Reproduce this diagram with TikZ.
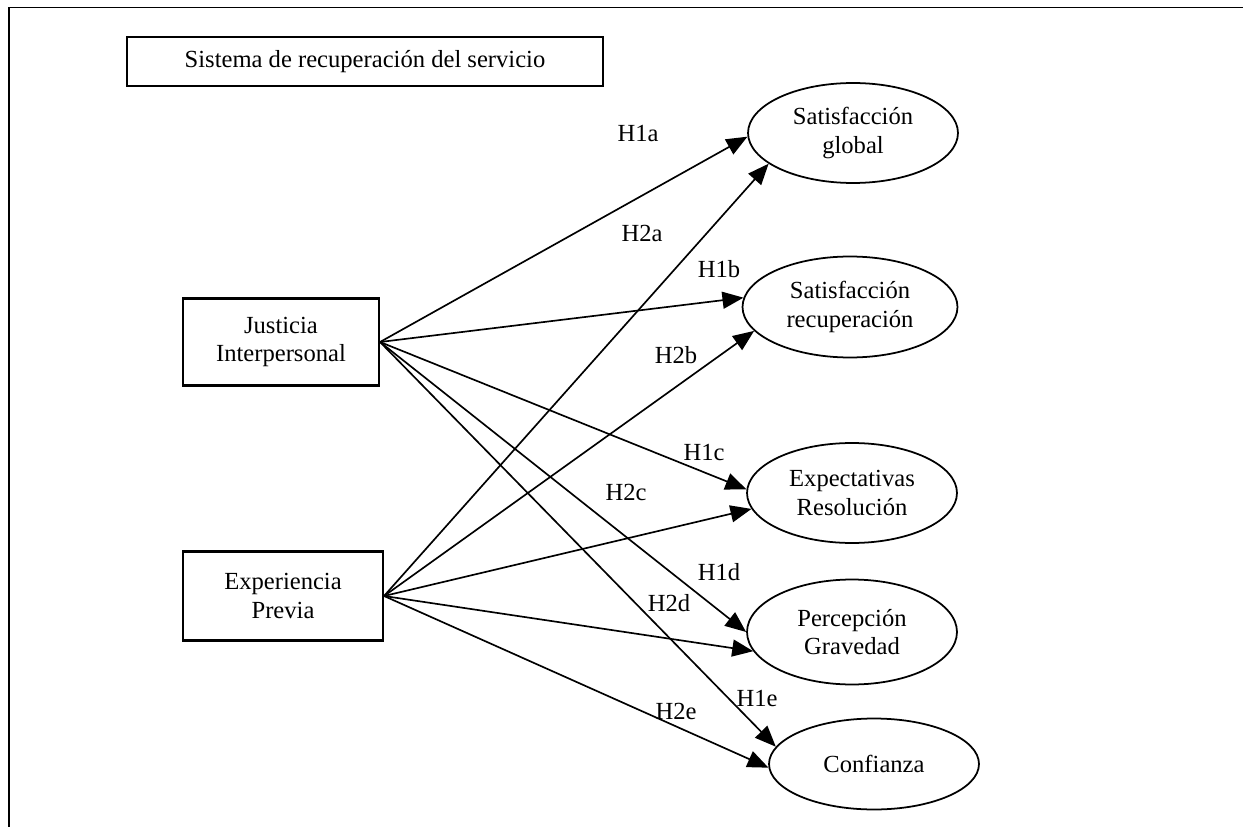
\documentclass[tikz,border=0pt]{standalone}
\usepackage{fontspec}
\setmainfont{Liberation Serif}
\usetikzlibrary{arrows.meta, shapes.geometric}

\begin{document}
\begin{tikzpicture}[
  x=0.02cm, y=-0.02cm,
  every node/.style={font=\fontsize{14}{16}\selectfont},
  box/.style={draw, line width=1.2pt, align=center, inner sep=0pt},
  latent/.style={draw, ellipse, line width=1pt, align=center, inner sep=0pt,
                 minimum width=4.2cm, minimum height=2cm},
  arr/.style={-{Triangle[length=0.42cm, width=0.34cm]}, line width=0.95pt},
  hyp/.style={inner sep=0pt},
]
  \useasboundingbox (0,0) rectangle (1243,827);
  \draw[line width=0.8pt] (1243,7.5) -- (9,7.5) -- (9,827);

  \node[box, minimum width=9.52cm, minimum height=0.98cm] (titulo) at (365,61.5) {Sistema de recuperación del servicio};

  \node[box, minimum width=3.92cm, minimum height=1.74cm] (jus) at (281,342) {Justicia\\Interpersonal};
  \node[box, minimum width=4cm, minimum height=1.78cm] (exp) at (283,596) {Experiencia\\Previa};

  \node[latent] (sglobal) at (853,133) {Satisfacción\\global};
  \node[latent, minimum width=4.3cm, minimum height=2.02cm] (srecup) at (850,307) {Satisfacción\\recuperación};
  \node[latent] (expect) at (852,493) {Expectativas\\Resolución};
  \node[latent, minimum height=2.1cm] (percep) at (852,632) {Percepción\\Gravedad};
  \node[latent, minimum height=1.82cm] (conf) at (874,764) {Confianza};

  \draw[arr] (jus.east) -- (sglobal.182);
  \draw[arr] (jus.east) -- (srecup.175);
  \draw[arr] (jus.east) -- (expect.178);
  \draw[arr] (jus.east) -- (percep.180);
  \draw[arr] (jus.east) -- (conf.170);
  \draw[arr] (exp.east) -- (sglobal.200);
  \draw[arr] (exp.east) -- (srecup.194);
  \draw[arr] (exp.east) -- (expect.189);
  \draw[arr] (exp.east) -- (percep.191);
  \draw[arr] (exp.east) -- (conf.182);

  \node[hyp] (h1a) at (638,134) {H1a};
  \node[hyp] (h2a) at (642,233) {H2a};
  \node[hyp] (h1b) at (719,269) {H1b};
  \node[hyp] (h2b) at (676,355) {H2b};
  \node[hyp] (h1c) at (704,452) {H1c};
  \node[hyp] (h2c) at (626,492) {H2c};
  \node[hyp] (h1d) at (719,572) {H1d};
  \node[hyp] (h2d) at (669,603) {H2d};
  \node[hyp] (h1e) at (757,698) {H1e};
  \node[hyp] (h2e) at (676,711) {H2e};
\end{tikzpicture}
\end{document}
